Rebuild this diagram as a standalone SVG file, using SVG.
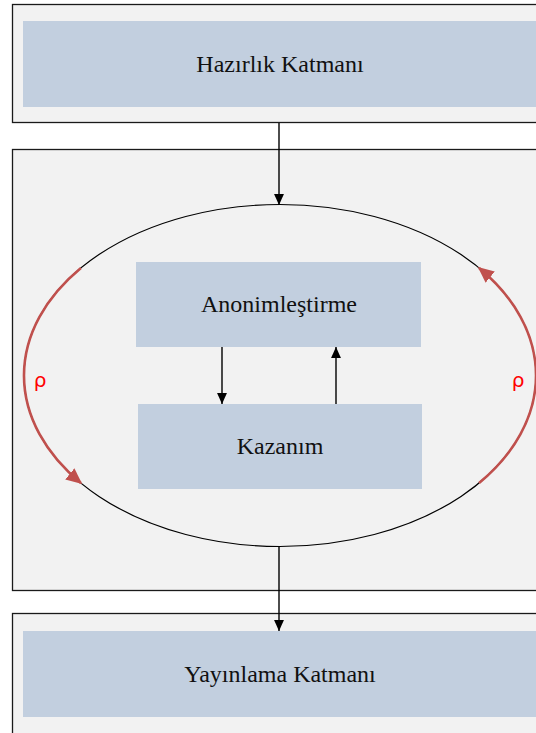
<svg xmlns="http://www.w3.org/2000/svg" width="536" height="733" viewBox="0 0 536 733">
  <style>
    .layer { fill: #f2f2f2; stroke: #1a1a1a; stroke-width: 1.3; }
    .box { fill: #c2cfdf; }
    .label { font-family: "Liberation Serif", "Times New Roman", serif; font-size: 24px; fill: #111; text-anchor: middle; }
    .rho { font-family: "DejaVu Sans", "Liberation Sans", sans-serif; font-size: 20px; fill: #ff0000; text-anchor: middle; }
    .link { stroke: #000; stroke-width: 1.4; fill: none; }
    .loop { stroke: #c0504d; stroke-width: 2.6; fill: none; }
  </style>
  <defs>
    <marker id="arrowBlack" viewBox="0 0 10 10" refX="10" refY="5" markerWidth="11" markerHeight="11" markerUnits="userSpaceOnUse" orient="auto">
      <path d="M0,0.5 L10,5 L0,9.5 z" fill="#000"/>
    </marker>
    <marker id="arrowRed" viewBox="0 0 10 10" refX="9" refY="5" markerWidth="16" markerHeight="16" markerUnits="userSpaceOnUse" orient="auto">
      <path d="M0,0.5 L10,5 L0,9.5 z" fill="#c0504d"/>
    </marker>
  </defs>

  <!-- preparation layer -->
  <g id="hazirlik">
    <rect class="layer" x="12.5" y="4.5" width="540" height="118"/>
    <rect class="box" x="23" y="21" width="514" height="86"/>
    <text class="label" x="280" y="72">Hazırlık Katmanı</text>
  </g>

  <!-- processing layer with loop -->
  <g id="islem">
    <rect class="layer" x="12.5" y="149.5" width="540" height="441"/>
    <ellipse cx="280" cy="375.5" rx="256" ry="171" fill="none" stroke="#000" stroke-width="1.2"/>
  </g>

  <g id="anonimlestirme">
    <rect class="box" x="136" y="262" width="285" height="85"/>
    <text class="label" x="279" y="312">Anonimleştirme</text>
  </g>

  <g id="kazanim">
    <rect class="box" x="138" y="404" width="284" height="85"/>
    <text class="label" x="280" y="454">Kazanım</text>
  </g>

  <!-- publishing layer -->
  <g id="yayinlama">
    <rect class="layer" x="12.5" y="613.5" width="540" height="130"/>
    <rect class="box" x="23" y="631" width="514" height="86"/>
    <text class="label" x="280" y="682">Yayınlama Katmanı</text>
  </g>

  <g id="connectors">
    <line class="link" x1="279" y1="123" x2="279" y2="205" marker-end="url(#arrowBlack)"/>
    <line class="link" x1="279" y1="546" x2="279" y2="631" marker-end="url(#arrowBlack)"/>
    <line class="link" x1="222" y1="347" x2="222" y2="404" marker-end="url(#arrowBlack)"/>
    <line class="link" x1="336" y1="404" x2="336" y2="347" marker-end="url(#arrowBlack)"/>
    <!-- loop arcs follow the ellipse exactly -->
    <path class="loop" d="M 80.9 268 A 256 171 0 0 0 80.9 483" marker-end="url(#arrowRed)"/>
    <path class="loop" d="M 479.1 483 A 256 171 0 0 0 479.1 268" marker-end="url(#arrowRed)"/>
  </g>

  <g id="etiketler">
    <text class="rho" x="40" y="387">ρ</text>
    <text class="rho" x="518" y="387">ρ</text>
  </g>
</svg>
